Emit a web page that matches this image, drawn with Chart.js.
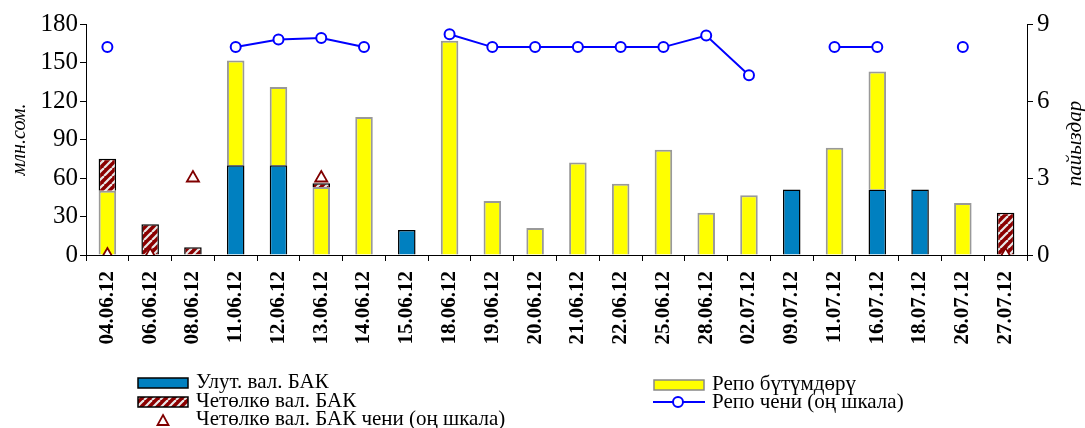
<!DOCTYPE html>
<html>
<head>
<meta charset="utf-8">
<script src="https://cdn.jsdelivr.net/npm/chart.js"></script>
<style>
body{margin:0;background:#fff;}
.wrap{position:relative;width:1085px;height:428px;}
</style>
</head>
<body>
<div class="wrap"><canvas id="chart-1"></canvas></div>
<script>
// dates
const labels = ['04.06.12','06.06.12','08.06.12','11.06.12','12.06.12','13.06.12','14.06.12','15.06.12','18.06.12','19.06.12','20.06.12',
  '21.06.12','22.06.12','25.06.12','28.06.12','02.07.12','09.07.12','11.07.12','16.07.12','18.07.12','26.07.12','27.07.12'];
// млн.сом.
const natBak = [null,null,null,70,70,null,null,19.5,null,null,null,null,null,null,null,null,51,null,51,51,null,null];
const repo = [50,null,null,81.5,61,53,107.5,null,167,42,21,72,55.5,82,33,46.5,null,83.5,92,null,40.5,null];
const foreignBak = [25,24,6,null,null,3,null,null,null,null,null,null,null,null,null,null,null,null,null,null,null,33];
// пайыздар
const repoRate = [8.1,null,null,8.1,8.4,8.45,8.1,null,8.6,8.1,8.1,8.1,8.1,8.1,8.55,7.0,null,8.1,8.1,null,8.1,null];
const foreignRate = [0,0,3,null,null,3,null,null,null,null,null,null,null,null,null,null,null,null,null,null,null,0];
const leftTicks = [0,30,60,90,120,150,180];
const rightTicks = [0,3,6,9];

const serif = "'Liberation Serif','Times New Roman',serif";

function hatch(){
  const s = 8;
  const c = document.createElement('canvas');
  c.width = s; c.height = s;
  const g = c.getContext('2d');
  g.fillStyle = '#8b0000';
  g.fillRect(0,0,s,s);
  g.strokeStyle = '#e8e8e8';
  g.lineWidth = 2.2;
  for(let k=-1;k<=1;k++){
    g.beginPath();
    g.moveTo(k*s, s);
    g.lineTo(k*s+s, 0);
    g.stroke();
  }
  return g.createPattern(c,'repeat');
}
const hatchFill = hatch();

const legendPlugin = {
  id:'legendBox',
  afterDraw(chart){
    const c = chart.ctx;
    c.save();
    // right axis title, reads bottom to top like the left one
    const ca = chart.chartArea;
    c.translate(1075, (ca.top+ca.bottom)/2 + 4);
    c.rotate(-Math.PI/2);
    c.font = 'italic 21px ' + serif;
    c.fillStyle = '#000';
    c.textAlign = 'center';
    c.textBaseline = 'middle';
    c.fillText('пайыздар',0,0);
    c.setTransform(1,0,0,1,0,0);
    c.restore();

    c.save();
    c.font = '21px ' + serif;
    c.textBaseline = 'middle';
    // left column
    c.fillStyle = '#0080c0'; c.fillRect(138,378,50,10);
    c.strokeStyle = '#000'; c.lineWidth = 1.5; c.strokeRect(138,378,50,10);
    c.fillStyle = hatchFill; c.fillRect(138,397,50,10);
    c.strokeRect(138,397,50,10);
    c.beginPath(); c.moveTo(163,415); c.lineTo(168.5,425); c.lineTo(157.5,425); c.closePath();
    c.fillStyle = '#fff'; c.fill(); c.strokeStyle = '#800000'; c.lineWidth = 1.8; c.stroke();
    c.fillStyle = '#000';
    c.fillText('Улут. вал. БАК',196,382);
    c.fillText('Четөлкө вал. БАК',196,401);
    c.fillText('Четөлкө вал. БАК чени (оң шкала)',196,419);
    // right column
    c.fillStyle = '#ffff00'; c.fillRect(654,380,50,10);
    c.strokeStyle = '#888'; c.lineWidth = 1.5; c.strokeRect(654,380,50,10);
    c.strokeStyle = '#0000ff'; c.lineWidth = 2;
    c.beginPath(); c.moveTo(653,402); c.lineTo(705,402); c.stroke();
    c.beginPath(); c.arc(678,402,5,0,Math.PI*2); c.fillStyle = '#fff'; c.fill(); c.stroke();
    c.fillStyle = '#000';
    c.fillText('Репо бүтүмдөрү',712,384);
    c.fillText('Репо чени (оң шкала)',712,402);
    c.restore();
  }
};

const ctx = document.getElementById('chart-1').getContext('2d');
let myChart = new Chart(ctx, {
  type:'bar',
  data:{
    labels: labels,
    datasets:[
      {label:'Репо чени (оң шкала)', type:'line', data:repoRate, yAxisID:'y2', order:0,
        borderColor:'#0000ff', borderWidth:2, pointStyle:'circle', pointRadius:5, pointBorderWidth:2,
        pointBackgroundColor:'#fff', pointBorderColor:'#0000ff', spanGaps:false, tension:0},
      {label:'Четөлкө вал. БАК чени (оң шкала)', type:'line', data:foreignRate, yAxisID:'y2', order:0,
        showLine:false, pointStyle:'triangle', pointRadius:7, pointBorderWidth:1.8,
        pointBackgroundColor:'#fff', pointBorderColor:'#800000'},
      {label:'Улут. вал. БАК', data:natBak, backgroundColor:'#0080c0', borderColor:'#000', borderWidth:1.5, order:1},
      {label:'Репо бүтүмдөрү', data:repo, backgroundColor:'#ffff00', borderColor:'#999', borderWidth:2, order:1},
      {label:'Четөлкө вал. БАК', data:foreignBak, backgroundColor:hatchFill, borderColor:'#000', borderWidth:1.5, order:1}
    ]
  },
  options:{
    responsive:true,
    maintainAspectRatio:false,
    animation:false,
    layout:{padding:{top:24,left:0,right:0,bottom:0}},
    datasets:{bar:{barPercentage:0.41,categoryPercentage:1}},
    plugins:{legend:{display:false},tooltip:{enabled:false}},
    scales:{
      x:{
        stacked:true, offset:true,
        grid:{offset:true, drawOnChartArea:false, drawTicks:true, tickLength:6, color:'#000'},
        border:{display:true, color:'#000', width:1},
        ticks:{autoSkip:false, maxRotation:90, minRotation:90, padding:10, color:'#000',
          font:{family:serif, size:21, weight:'bold'}},
        afterFit(scale){ scale.height = 173; }
      },
      y:{
        stacked:true, min:0, max:180, position:'left',
        afterBuildTicks(scale){ scale.ticks = leftTicks.map(v=>({value:v})); },
        grid:{drawOnChartArea:false, tickLength:6, color:'#000'},
        border:{display:true, color:'#000', width:1},
        ticks:{padding:2, color:'#000', font:{family:serif, size:25}},
        title:{display:true, text:'млн.сом.', color:'#000', padding:{top:8,bottom:0},
          font:{family:serif, size:20, style:'italic'}},
        afterFit(scale){ scale.width = 86; }
      },
      y2:{
        min:0, max:9, position:'right',
        afterBuildTicks(scale){ scale.ticks = rightTicks.map(v=>({value:v})); },
        grid:{drawOnChartArea:false, tickLength:6, color:'#000'},
        border:{display:true, color:'#000', width:1},
        ticks:{padding:4, color:'#000', font:{family:serif, size:25}},
        afterFit(scale){ scale.width = 58; }
      }
    }
  },
  plugins:[legendPlugin]
});
</script>
</body>
</html>
